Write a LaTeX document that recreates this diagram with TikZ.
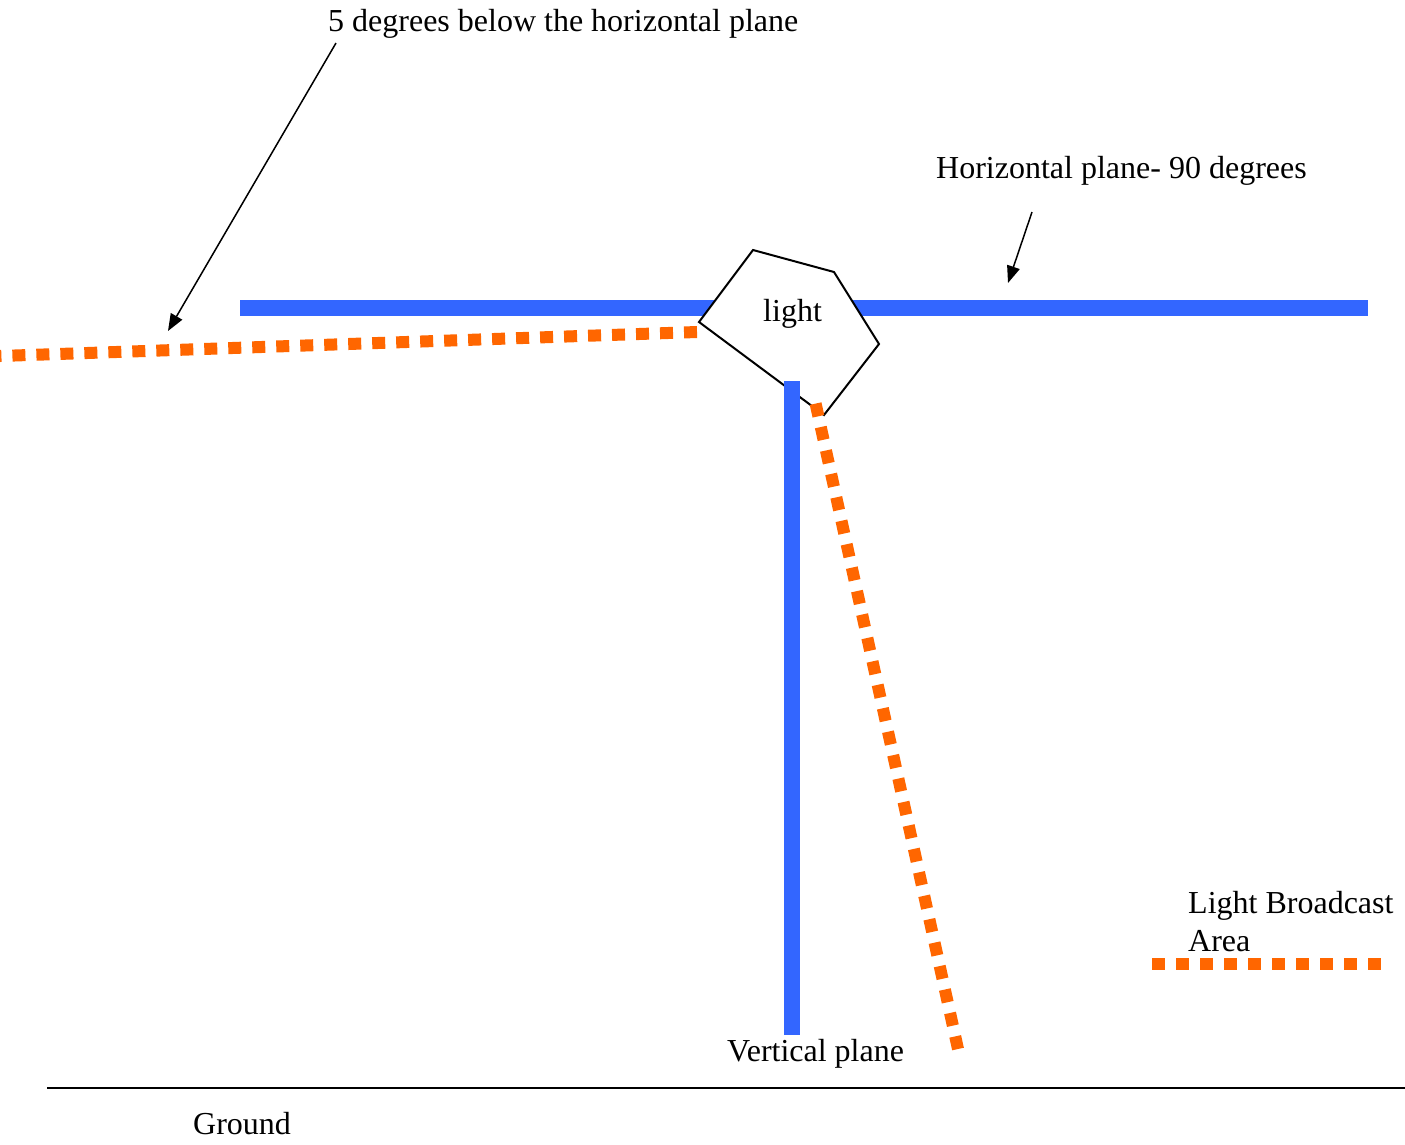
\documentclass[tikz,border=0pt]{standalone}
\usepackage{fontspec}
\setmainfont{Liberation Serif}
\usetikzlibrary{arrows.meta}
\definecolor{planeblue}{HTML}{3366FF}
\definecolor{lightorange}{HTML}{FF6600}
\begin{document}
\begin{tikzpicture}[x=1pt,y=-1pt,
  plane/.style={line width=16pt,planeblue},
  beam/.style={line width=12pt,lightorange,dash pattern=on 13pt off 11pt},
  label/.style={anchor=base west,inner sep=0pt,font=\fontsize{32}{37}\selectfont},
  pointer/.style={line width=1.5pt,-{Triangle[length=17pt,width=13pt]}}]
\useasboundingbox (0,0) rectangle (1405,1144);
% coordinates
\coordinate (hl) at (240,308);
\coordinate (hr) at (1368,308);
\coordinate (vt) at (792,381);
\coordinate (vb) at (792,1035);
\coordinate (p1) at (753,250);
\coordinate (p2) at (834,272);
\coordinate (p3) at (879,344);
\coordinate (p4) at (824,415);
\coordinate (p5) at (699,322);
\coordinate (b1s) at (697,332);
\coordinate (b1e) at (0,356);
\coordinate (b2s) at (815.6,403.6);
\coordinate (b2e) at (958,1049);
\coordinate (lgs) at (1152,964);
\coordinate (lge) at (1381,964);
\coordinate (gl) at (47,1088);
\coordinate (gr) at (1405,1088);
\coordinate (a1s) at (336,43);
\coordinate (a1e) at (168,331);
\coordinate (a2s) at (1032,212);
\coordinate (a2e) at (1008,283);
% horizontal plane
\draw[plane] (hl) -- (hr);
% light housing
\filldraw[fill=white,draw=black,line width=2pt,line join=miter] (p1) -- (p2) -- (p3) -- (p4) -- (p5) -- cycle;
\node[label] (lighttxt) at (763,321) {light};
% beams
\draw[beam] (b1s) -- (b1e);
\draw[beam] (b2s) -- (b2e);
% vertical plane
\draw[plane] (vt) -- (vb);
% ground
\draw[line width=2.5pt] (gl) -- (gr);
% legend
\draw[beam] (lgs) -- (lge);
% texts
\node[label] (t5deg) at (328,31) {5 degrees below the horizontal plane};
\node[label] (thor) at (936,178) {Horizontal plane- 90 degrees};
\node[label] (tlba) at (1188,913) {Light Broadcast};
\node[label] (tarea) at (1188,951) {Area};
\node[label] (tvert) at (727,1061) {Vertical plane};
\node[label] (tground) at (193,1134) {Ground};
% pointers
\draw[pointer] (a1s) -- (a1e);
\draw[pointer] (a2s) -- (a2e);
\end{tikzpicture}
\end{document}
